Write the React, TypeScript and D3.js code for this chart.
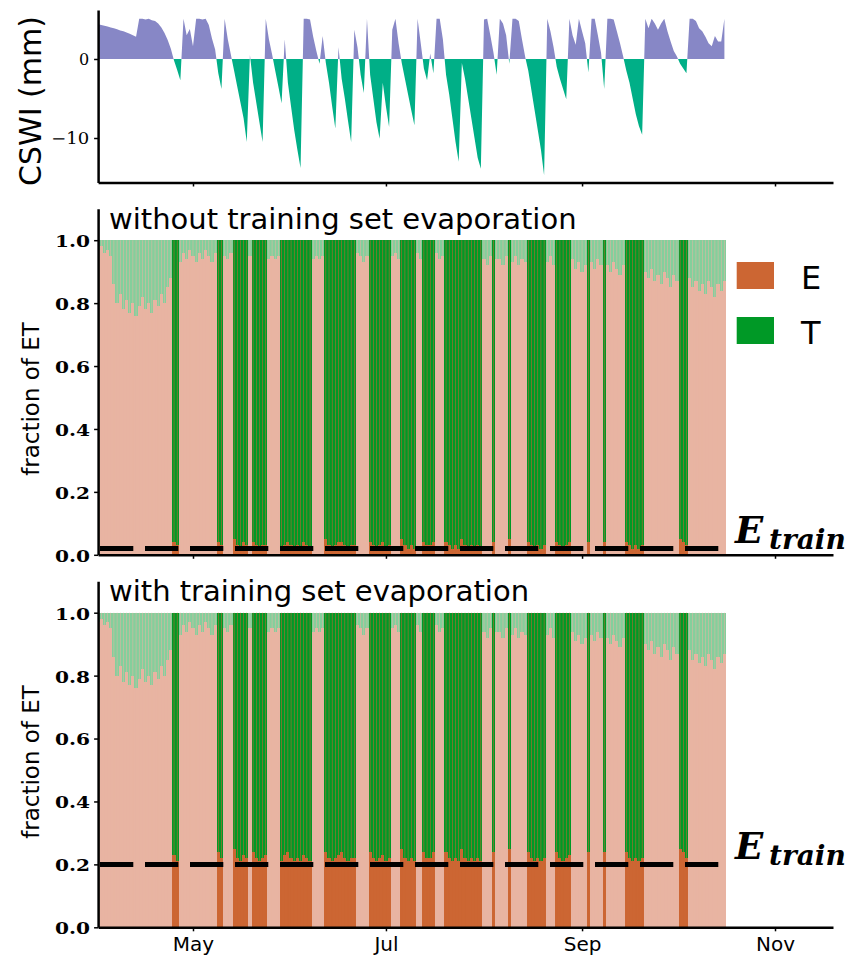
import React, { useEffect, useRef } from "react";
import * as d3 from "d3";

// daily values from 1 Apr to 16 Oct
const START = new Date(2019, 3, 1);

// CSWI (mm), one value per day
const cswi = [
  4.4, 4.3, 4.2, 4.1, 4.0, 3.9, 3.75, 3.6, 3.5, 3.35,
  3.2, 3.0, 2.8, 5.1, 5.1, 5.0, 5.1, 4.9, 4.8, 4.5,
  4.0, 3.3, 2.4, 1.3, -0.2, -1.4, -2.7, 5.1, 3.0, 3.8,
  1.6, 5.1, 5.1, 5.0, 5.1, 4.3, 2.6, 1.2, -1.8, -3.8,
  5.1, 2.5, 0.5, -1.5, -3.5, -5.5, -7.5, -10.5, 0.5, -3.0,
  -5.5, -8.0, -10.5, 5.1, 2.5, 0.6, -1.5, -3.5, -5.6, 2.5,
  -3.0, -6.0, -9.0, -11.5, -13.8, 5.1, 5.1, 5.0, 2.8, 1.0,
  -0.6, 2.9, -0.5, -3.0, -6.0, -8.8, 1.5, -2.5, -5.0, -7.8,
  -10.5, 3.7, 1.5, -2.0, -4.3, 5.1, -2.0, -5.0, -8.0, -10.1,
  -3.0, -6.0, -8.6, 3.7, 5.1, 2.0, -0.5, -2.5, -4.5, -6.5,
  -8.4, 5.1, 2.0, -1.2, -2.7, 0.7, -1.8, 5.1, 5.1, 2.5,
  -2.0, -4.5, -7.5, -10.5, -13.0, -0.5, -2.5, -5.0, -7.5, -10.0,
  -12.5, -13.9, 5.0, 5.1, 3.0, 0.8, -2.0, 5.1, 4.5, 3.0,
  -0.6, 5.1, 5.1, 4.8, 2.5, 0.3, -1.5, -4.0, -6.5, -9.0,
  -11.5, -14.7, 5.1, 3.5, 1.5, -1.0, -2.5, -3.8, -5.1, 5.1,
  3.0, 1.8, 5.1, 3.5, 2.0, -1.7, 5.1, 5.1, 3.0, 0.8,
  -3.8, 5.1, 5.1, 5.0, 3.5, 2.0, 0.3, -1.5, -3.0, -5.0,
  -7.0, -8.5, -9.6, 5.1, 3.9, 5.1, 4.5, 3.7, 4.5, 5.1,
  3.5, 2.2, 1.0, 0.3, -0.6, -1.2, -1.8, 5.1, 5.1, 4.8,
  3.9, 3.5, 2.8, 2.0, 1.6, 2.9, 2.2, 2.2, 5.1,
];

// water-limited periods (first day, last day), drawn in solid colours
const dryPeriods = [
  [24, 25], [38, 39], [43, 47], [49, 53], [58, 67], [72, 81], [86, 92],
  [96, 100], [103, 106], [110, 121], [125, 125], [130, 130], [136, 141],
  [145, 149], [155, 155], [160, 160], [167, 172], [184, 186],
];

// daytime fraction of ET that is E, model without training set evaporation
const eFracNoTrain = [
  0.97, 0.98, 0.96, 0.97, 0.95, 0.86, 0.80, 0.83, 0.78, 0.81,
  0.77, 0.80, 0.76, 0.79, 0.82, 0.78, 0.80, 0.77, 0.81, 0.79,
  0.83, 0.80, 0.85, 0.88, 0.04, 0.03, 0.93, 0.96, 0.94, 0.97,
  0.95, 0.93, 0.96, 0.94, 0.97, 0.95, 0.93, 0.96, 0.04, 0.03,
  0.95, 0.94, 0.96, 0.05, 0.03, 0.02, 0.04, 0.03, 0.95, 0.04,
  0.03, 0.02, 0.03, 0.03, 0.94, 0.95, 0.94, 0.95, 0.02, 0.03,
  0.04, 0.03, 0.02, 0.03, 0.02, 0.04, 0.03, 0.02, 0.94, 0.95,
  0.94, 0.95, 0.05, 0.03, 0.02, 0.03, 0.04, 0.04, 0.03, 0.02,
  0.03, 0.03, 0.96, 0.95, 0.93, 0.95, 0.04, 0.03, 0.02, 0.03,
  0.04, 0.02, 0.03, 0.95, 0.96, 0.94, 0.05, 0.03, 0.02, 0.03,
  0.02, 0.96, 0.94, 0.04, 0.03, 0.03, 0.04, 0.96, 0.94, 0.95,
  0.04, 0.03, 0.02, 0.03, 0.02, 0.05, 0.03, 0.02, 0.03, 0.02,
  0.03, 0.02, 0.94, 0.92, 0.95, 0.04, 0.94, 0.94, 0.92, 0.95,
  0.05, 0.93, 0.95, 0.92, 0.94, 0.93, 0.04, 0.03, 0.02, 0.03,
  0.02, 0.03, 0.93, 0.95, 0.92, 0.04, 0.03, 0.02, 0.03, 0.04,
  0.94, 0.91, 0.93, 0.90, 0.92, 0.04, 0.93, 0.91, 0.94, 0.92,
  0.04, 0.92, 0.90, 0.93, 0.91, 0.89, 0.92, 0.04, 0.03, 0.02,
  0.03, 0.02, 0.03, 0.90, 0.88, 0.91, 0.87, 0.89, 0.86, 0.90,
  0.88, 0.85, 0.89, 0.87, 0.05, 0.04, 0.03, 0.88, 0.85, 0.87,
  0.84, 0.86, 0.83, 0.87, 0.85, 0.82, 0.86, 0.84, 0.87,
];

// same, model with training set evaporation
const eFracTrain = [
  0.97, 0.98, 0.96, 0.97, 0.95, 0.86, 0.80, 0.83, 0.78, 0.81,
  0.77, 0.80, 0.76, 0.79, 0.82, 0.78, 0.80, 0.77, 0.81, 0.79,
  0.83, 0.80, 0.85, 0.88, 0.23, 0.21, 0.93, 0.96, 0.94, 0.97,
  0.95, 0.93, 0.96, 0.94, 0.97, 0.95, 0.93, 0.96, 0.24, 0.22,
  0.95, 0.94, 0.96, 0.25, 0.22, 0.21, 0.23, 0.22, 0.95, 0.24,
  0.22, 0.21, 0.22, 0.23, 0.94, 0.95, 0.94, 0.95, 0.21, 0.23,
  0.24, 0.22, 0.21, 0.22, 0.21, 0.23, 0.22, 0.21, 0.94, 0.95,
  0.94, 0.95, 0.24, 0.22, 0.21, 0.22, 0.23, 0.24, 0.22, 0.21,
  0.22, 0.22, 0.96, 0.95, 0.93, 0.95, 0.24, 0.22, 0.21, 0.22,
  0.23, 0.21, 0.22, 0.95, 0.96, 0.94, 0.25, 0.22, 0.21, 0.22,
  0.21, 0.96, 0.94, 0.24, 0.22, 0.22, 0.24, 0.96, 0.94, 0.95,
  0.24, 0.22, 0.21, 0.22, 0.21, 0.25, 0.22, 0.21, 0.22, 0.21,
  0.22, 0.21, 0.94, 0.92, 0.95, 0.24, 0.94, 0.94, 0.92, 0.95,
  0.25, 0.93, 0.95, 0.92, 0.94, 0.93, 0.24, 0.22, 0.21, 0.22,
  0.21, 0.22, 0.93, 0.95, 0.92, 0.24, 0.22, 0.21, 0.22, 0.23,
  0.94, 0.91, 0.93, 0.90, 0.92, 0.24, 0.93, 0.91, 0.94, 0.92,
  0.24, 0.92, 0.90, 0.93, 0.91, 0.89, 0.92, 0.24, 0.22, 0.21,
  0.22, 0.21, 0.22, 0.90, 0.88, 0.91, 0.87, 0.89, 0.86, 0.90,
  0.88, 0.85, 0.89, 0.87, 0.25, 0.24, 0.22, 0.88, 0.85, 0.87,
  0.84, 0.86, 0.83, 0.87, 0.85, 0.82, 0.86, 0.84, 0.87,
];

// night-time E fraction (E dominates when T shuts down)
const nightEFrac = 1.0;

const eTrainLevels = [0.02, 0.2];
const panelTitles = ["without training set evaporation", "with training set evaporation"];
const monthTicks = [new Date(2019, 4, 1), new Date(2019, 6, 1), new Date(2019, 8, 1), new Date(2019, 10, 1)];
const monthLabels = ["May", "Jul", "Sep", "Nov"];
const cswiTicks = [-10, 0];
const fracTicks = [0, 0.2, 0.4, 0.6, 0.8, 1.0];
const legendLabels = ["E", "T"];

const PURPLE = "#8787c6";
const TEAL = "#00af87";
const E_DARK = "#cc6633";
const E_LIGHT = "#e8b4a2";
const T_DARK = "#009926";
const T_LIGHT = "#84cf9c";

export default function App() {
  const svgRef = useRef<SVGSVGElement>(null);

  useEffect(() => {
    const svg = d3.select(svgRef.current);
    svg.selectAll("*").remove();

    const left = 98.1;
    const right = 833;
    const dates = cswi.map((_, i) => d3.timeDay.offset(START, i));
    const x = d3
      .scaleTime()
      .domain([START, new Date(2019, 10, 19, 8)])
      .range([left, right]);

    const dryDays = new Set<number>();
    dryPeriods.forEach(([a, b]) => d3.range(a, b + 1).forEach((d) => dryDays.add(d)));
    const dry = (i: number) => dryDays.has(i);

    const styleAxis = (g: any) => {
      g.select(".domain").attr("stroke", "#000").attr("stroke-width", 2.5);
      g.selectAll(".tick line").attr("stroke", "#000").attr("stroke-width", 1.5);
    };

    // ---- CSWI panel
    const yC = d3.scaleLinear().domain([-15.63, 6.2]).range([182.5, 10]);
    const defs = svg.append("defs");
    defs
      .append("clipPath")
      .attr("id", "pos")
      .append("rect")
      .attr("x", left)
      .attr("y", 0)
      .attr("width", right - left)
      .attr("height", yC(0));
    defs
      .append("clipPath")
      .attr("id", "neg")
      .append("rect")
      .attr("x", left)
      .attr("y", yC(0))
      .attr("width", right - left)
      .attr("height", 200);

    const area = d3
      .area<number>()
      .x((_, i) => x(dates[i]))
      .y0(yC(0))
      .y1((d) => yC(d));
    svg.append("path").datum(cswi).attr("d", area).attr("fill", PURPLE).attr("clip-path", "url(#pos)");
    svg.append("path").datum(cswi).attr("d", area).attr("fill", TEAL).attr("clip-path", "url(#neg)");

    const gxc = svg
      .append("g")
      .attr("transform", `translate(0,${yC.range()[0]})`)
      .call(d3.axisBottom(x).tickValues(monthTicks).tickSize(4).tickSizeOuter(0).tickFormat(() => ""));
    styleAxis(gxc);
    const gyc = svg
      .append("g")
      .attr("transform", `translate(${left},0)`)
      .call(
        d3
          .axisLeft(yC)
          .tickValues(cswiTicks)
          .tickSize(4)
          .tickPadding(5)
          .tickSizeOuter(0)
          .tickFormat((d: any) => (d < 0 ? "\u221210" : String(d)))
      );
    styleAxis(gyc);
    gyc.selectAll("text").attr("font-family", "DejaVu Serif").attr("font-size", 16).attr("fill", "#000");
    gyc.selectAll("text")
      .filter((d: any) => d < 0)
      .attr("textLength", 38)
      .attr("lengthAdjust", "spacingAndGlyphs");

    svg
      .append("text")
      .attr("transform", `translate(41,101) rotate(-90)`)
      .attr("text-anchor", "middle")
      .attr("font-family", "DejaVu Sans")
      .attr("font-size", 30)
      .text("CSWI (mm)");

    // ---- ET fraction panels
    const panels = [
      { e: eFracNoTrain, base: 554.8, labelY: 399 },
      { e: eFracTrain, base: 927.3, labelY: 762 },
    ];
    const unit = 314.6;

    panels.forEach((p, k) => {
      const y = d3.scaleLinear().domain([0, 1.1]).range([p.base, p.base - 1.1 * unit]);
      const clipId = `clip${k}`;
      defs
        .append("clipPath")
        .attr("id", clipId)
        .append("rect")
        .attr("x", left)
        .attr("y", y(1.1))
        .attr("width", right - left)
        .attr("height", y(0) - y(1.1));

      const g = svg.append("g").attr("clip-path", `url(#${clipId})`);
      const days = g.append("g").attr("shape-rendering", "crispEdges");
      const x0 = (i: number) => x(d3.timeHour.offset(dates[i], -12));
      const x1 = (i: number) => x(d3.timeHour.offset(dates[i], 12));

      days
        .selectAll("rect.t")
        .data(p.e)
        .join("rect")
        .attr("class", "t")
        .attr("x", (_, i) => x0(i))
        .attr("width", (_, i) => x1(i) - x0(i))
        .attr("y", y(1))
        .attr("height", y(0) - y(1))
        .attr("fill", (_, i) => (dry(i) ? T_DARK : T_LIGHT));
      days
        .selectAll("rect.e")
        .data(p.e)
        .join("rect")
        .attr("class", "e")
        .attr("x", (_, i) => x0(i))
        .attr("width", (_, i) => x1(i) - x0(i))
        .attr("y", (d) => y(d))
        .attr("height", (d) => y(0) - y(d))
        .attr("fill", (_, i) => (dry(i) ? E_DARK : E_LIGHT));

      // night stripes
      g.selectAll("rect.n")
        .data(p.e)
        .join("rect")
        .attr("class", "n")
        .attr("x", (_, i) => x(d3.timeHour.offset(dates[i], -2)))
        .attr("width", (_, i) => x(d3.timeHour.offset(dates[i], 2)) - x(d3.timeHour.offset(dates[i], -2)))
        .attr("y", y(nightEFrac))
        .attr("height", y(0) - y(nightEFrac))
        .attr("fill", (_, i) => (dry(i) ? E_DARK : E_LIGHT));

      // E_train level
      const lx0 = x(dates[0]);
      svg
        .append("line")
        .attr("x1", lx0)
        .attr("x2", x(dates[dates.length - 1]))
        .attr("y1", y(eTrainLevels[k]))
        .attr("y2", y(eTrainLevels[k]))
        .attr("stroke", "#000")
        .attr("stroke-width", 5)
        .attr("stroke-dasharray", "33.3 11.7")
        .attr("stroke-dashoffset", 45 - (100 - lx0));

      const ly = y(eTrainLevels[k]);
      svg
        .append("text")
        .attr("x", 735)
        .attr("y", ly - 5.5)
        .attr("font-family", "DejaVu Serif")
        .attr("font-weight", "bold")
        .attr("font-style", "italic")
        .attr("font-size", 37)
        .text("E");
      svg
        .append("text")
        .attr("x", 769)
        .attr("y", ly + 0.5)
        .attr("font-family", "DejaVu Serif")
        .attr("font-weight", "bold")
        .attr("font-style", "italic")
        .attr("font-size", 28)
        .text("train");

      // axes
      const gx = svg
        .append("g")
        .attr("transform", `translate(0,${p.base})`)
        .call(
          d3
            .axisBottom(x)
            .tickValues(monthTicks)
            .tickSize(4)
            .tickPadding(5.5)
            .tickSizeOuter(0)
            .tickFormat((_, i) => (k === 1 ? monthLabels[i] : ""))
        );
      styleAxis(gx);
      gx.selectAll("text").attr("font-family", "DejaVu Sans").attr("font-size", 20).attr("fill", "#000");

      const gy = svg
        .append("g")
        .attr("transform", `translate(${left},0)`)
        .call(
          d3
            .axisLeft(y)
            .tickValues(fracTicks)
            .tickSize(4)
            .tickPadding(4)
            .tickSizeOuter(0)
            .tickFormat(d3.format(".1f") as any)
        );
      styleAxis(gy);
      gy.selectAll("text")
        .attr("font-family", "DejaVu Serif")
        .attr("font-weight", "bold")
        .attr("font-size", 16)
        .attr("textLength", 35)
        .attr("lengthAdjust", "spacingAndGlyphs")
        .attr("dy", "0.4em")
        .attr("fill", "#000");

      svg
        .append("text")
        .attr("x", 109)
        .attr("y", y(1.1) + 20)
        .attr("font-family", "DejaVu Sans")
        .attr("font-size", 29)
        .text(panelTitles[k]);

      svg
        .append("text")
        .attr("transform", `translate(39,${p.labelY}) rotate(-90)`)
        .attr("text-anchor", "middle")
        .attr("font-family", "DejaVu Sans")
        .attr("font-size", 23)
        .text("fraction of ET");
    });

    // legend
    const legend = svg.append("g");
    legendLabels.forEach((lab, i) => {
      legend
        .append("rect")
        .attr("x", 736.7)
        .attr("y", 262 + i * 55)
        .attr("width", 37.3)
        .attr("height", 27)
        .attr("fill", i === 0 ? E_DARK : T_DARK);
      legend
        .append("text")
        .attr("x", 801)
        .attr("y", 288.5 + i * 55)
        .attr("font-family", "DejaVu Sans")
        .attr("font-size", 32)
        .text(lab);
    });
  }, []);

  return (
    <svg
      ref={svgRef}
      width={852}
      height={959}
      style={{ position: "absolute", left: 0, top: 0, background: "#fff" }}
    />
  );
}
